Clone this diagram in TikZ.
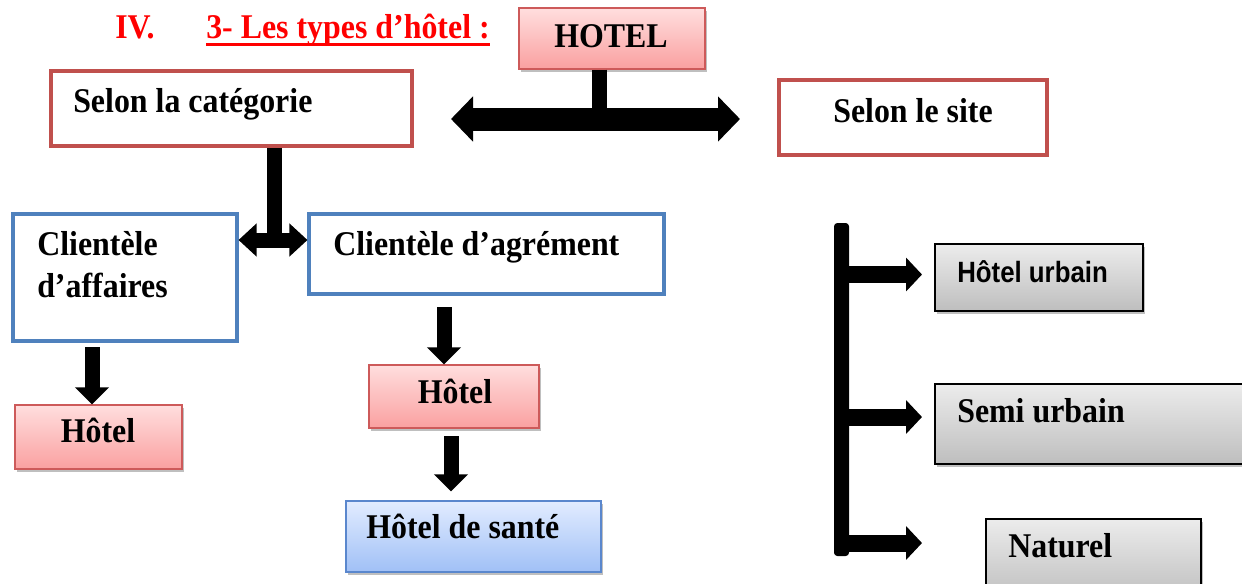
\documentclass[tikz,border=0pt]{standalone}
\usepackage{fontspec}
\setmainfont[FakeStretch=0.92]{Liberation Serif}
\newfontfamily\sansfam[FakeStretch=0.88]{Liberation Sans}
\usetikzlibrary{arrows.meta,shadows,fit}

\definecolor{titlered}{RGB}{255,0,0}
\definecolor{catred}{RGB}{192,80,77}
\definecolor{cliblue}{RGB}{79,129,189}
\definecolor{pinkline}{RGB}{205,90,90}
\definecolor{pinktop}{RGB}{255,222,222}
\definecolor{pinkbot}{RGB}{250,160,160}
\definecolor{blueline}{RGB}{90,135,205}
\definecolor{bluetop}{RGB}{226,236,255}
\definecolor{bluebot}{RGB}{160,192,246}
\definecolor{graytop}{RGB}{236,236,236}
\definecolor{graybot}{RGB}{190,190,190}

\begin{document}
\begin{tikzpicture}[x=0.75pt,y=-0.75pt,
        lbl/.style={
            font=\bfseries\fontsize{26}{31.5}\selectfont,
            inner sep=0pt
        },
        sanslbl/.style={
            font=\sansfam\bfseries\fontsize{22}{26}\selectfont,
            inner sep=0pt
        },
        frame/.style={
            rectangle,
            draw=#1,
            line width=2.3pt,
            inner sep=0pt
        },
        softshadow/.style={
            drop shadow={shadow xshift=1.5pt, shadow yshift=-2pt,
                fill=black, opacity=0.25}
        },
        pinkbox/.style={
            rectangle, softshadow,
            draw=pinkline, line width=0.9pt,
            top color=pinktop, bottom color=pinkbot,
            inner sep=0pt
        },
        bluebox/.style={
            rectangle, softshadow,
            draw=blueline, line width=0.9pt,
            top color=bluetop, bottom color=bluebot,
            inner sep=0pt
        },
        graybox/.style={
            rectangle, softshadow,
            draw=black, line width=1pt,
            top color=graytop, bottom color=graybot,
            inner sep=0pt
        },
        stem/.style={line width=11.25pt},
        bigdbl/.style={
            line width=17.25pt,
            {Triangle[length=16.5pt, width=33pt]}-{Triangle[length=16.5pt, width=33pt]}
        },
        smalldbl/.style={
            line width=11.25pt,
            {Triangle[length=13.5pt, width=24pt]}-{Triangle[length=13.5pt, width=24pt]}
        },
        downarrow/.style={
            line width=11.25pt,
            -{Triangle[length=12.75pt, width=24.75pt]}
        },
        sidearrow/.style={
            line width=12.75pt,
            -{Triangle[length=12pt, width=24.75pt]}
        }
    ]

        \useasboundingbox (0,0) rectangle (1242,583);

        % titre
        \node[lbl, text=titlered, anchor=base west] (num) at (115,38) {IV.};
        \node[lbl, text=titlered, anchor=base west] (ttl) at (206,38) {3- Les types d’hôtel :};
        \draw[titlered, line width=2.25pt] ([yshift=-4.5pt]ttl.base west) -- ([yshift=-4.5pt]ttl.base east);

        % cadres
        \node[pinkbox, fit={(519,8) (705,69)}] (hotel) {};
        \node[frame=catred, fit={(51,71) (412,146)}] (cat) {};
        \node[frame=catred, fit={(779,80) (1047,155)}] (site) {};
        \node[frame=cliblue, fit={(13,214) (237,341)}] (aff) {};
        \node[frame=cliblue, fit={(309,214) (664,294)}] (agr) {};
        \node[pinkbox, fit={(15,405) (182,469)}] (hleft) {};
        \node[pinkbox, fit={(369,365) (539,428)}] (hmid) {};
        \node[bluebox, fit={(346,501) (601,572)}] (sante) {};
        \node[graybox, fit={(935,244) (1143,311)}] (urb) {};
        \node[graybox, fit={(935,384) (1252,464)}] (semi) {};
        \node[graybox, fit={(986,519) (1201,600)}] (nat) {};

        % textes
        \node[lbl, anchor=base] (hotel-t) at (611,47) {HOTEL};
        \node[lbl, anchor=base west] (cat-t) at (73,112) {Selon la catégorie};
        \node[lbl, anchor=base west] (site-t) at (833,122) {Selon le site};
        \node[lbl, anchor=base west, align=left] (aff-t) at (37,297) {Clientèle\\d’affaires};
        \node[lbl, anchor=base west] (agr-t) at (333,255) {Clientèle d’agrément};
        \node[lbl, anchor=base] (hleft-t) at (98,442) {Hôtel};
        \node[lbl, anchor=base] (hmid-t) at (455,403) {Hôtel};
        \node[lbl, anchor=base west] (sante-t) at (366,538) {Hôtel de santé};
        \node[sanslbl, anchor=base west] (urb-t) at (957,282) {Hôtel urbain};
        \node[lbl, anchor=base west] (semi-t) at (957,422) {Semi urbain};
        \node[lbl, anchor=base west] (nat-t) at (1008,557) {Naturel};

        % fleches du haut
        \coordinate (hj) at (599,130);
        \coordinate (sl) at (451,119);
        \coordinate (sr) at (740,119);
        \draw[bigdbl] (sl) -- (sr);
        \draw[stem] (hj |- hotel.south) -- (hj);

        \coordinate (cj) at (274,240);
        \draw[stem] (cj |- cat.south) -- (cj);
        \draw[smalldbl] (aff.east |- cj) -- (agr.west |- cj);

        % fleches vers le bas
        \coordinate (d1) at (92,347);
        \coordinate (d2) at (444,307);
        \coordinate (d3) at (451,436);
        \draw[downarrow] (d1) -- (d1 |- hleft.north);
        \draw[downarrow] (d2) -- (d2 |- hmid.north);
        \draw[downarrow, shorten >=6.75pt] (d3) -- (d3 |- sante.north);

        % barre et fleches du site
        \fill[rounded corners=2.5pt] (834,223) rectangle (849,556);
        \foreach \y [count=\k] in {274.5,417,543} {
            \coordinate (bar\k) at (848,\y);
            \coordinate (tip\k) at (922,\y);
            \draw[sidearrow] (bar\k) -- (tip\k);
        }

    \end{tikzpicture}
\end{document}
